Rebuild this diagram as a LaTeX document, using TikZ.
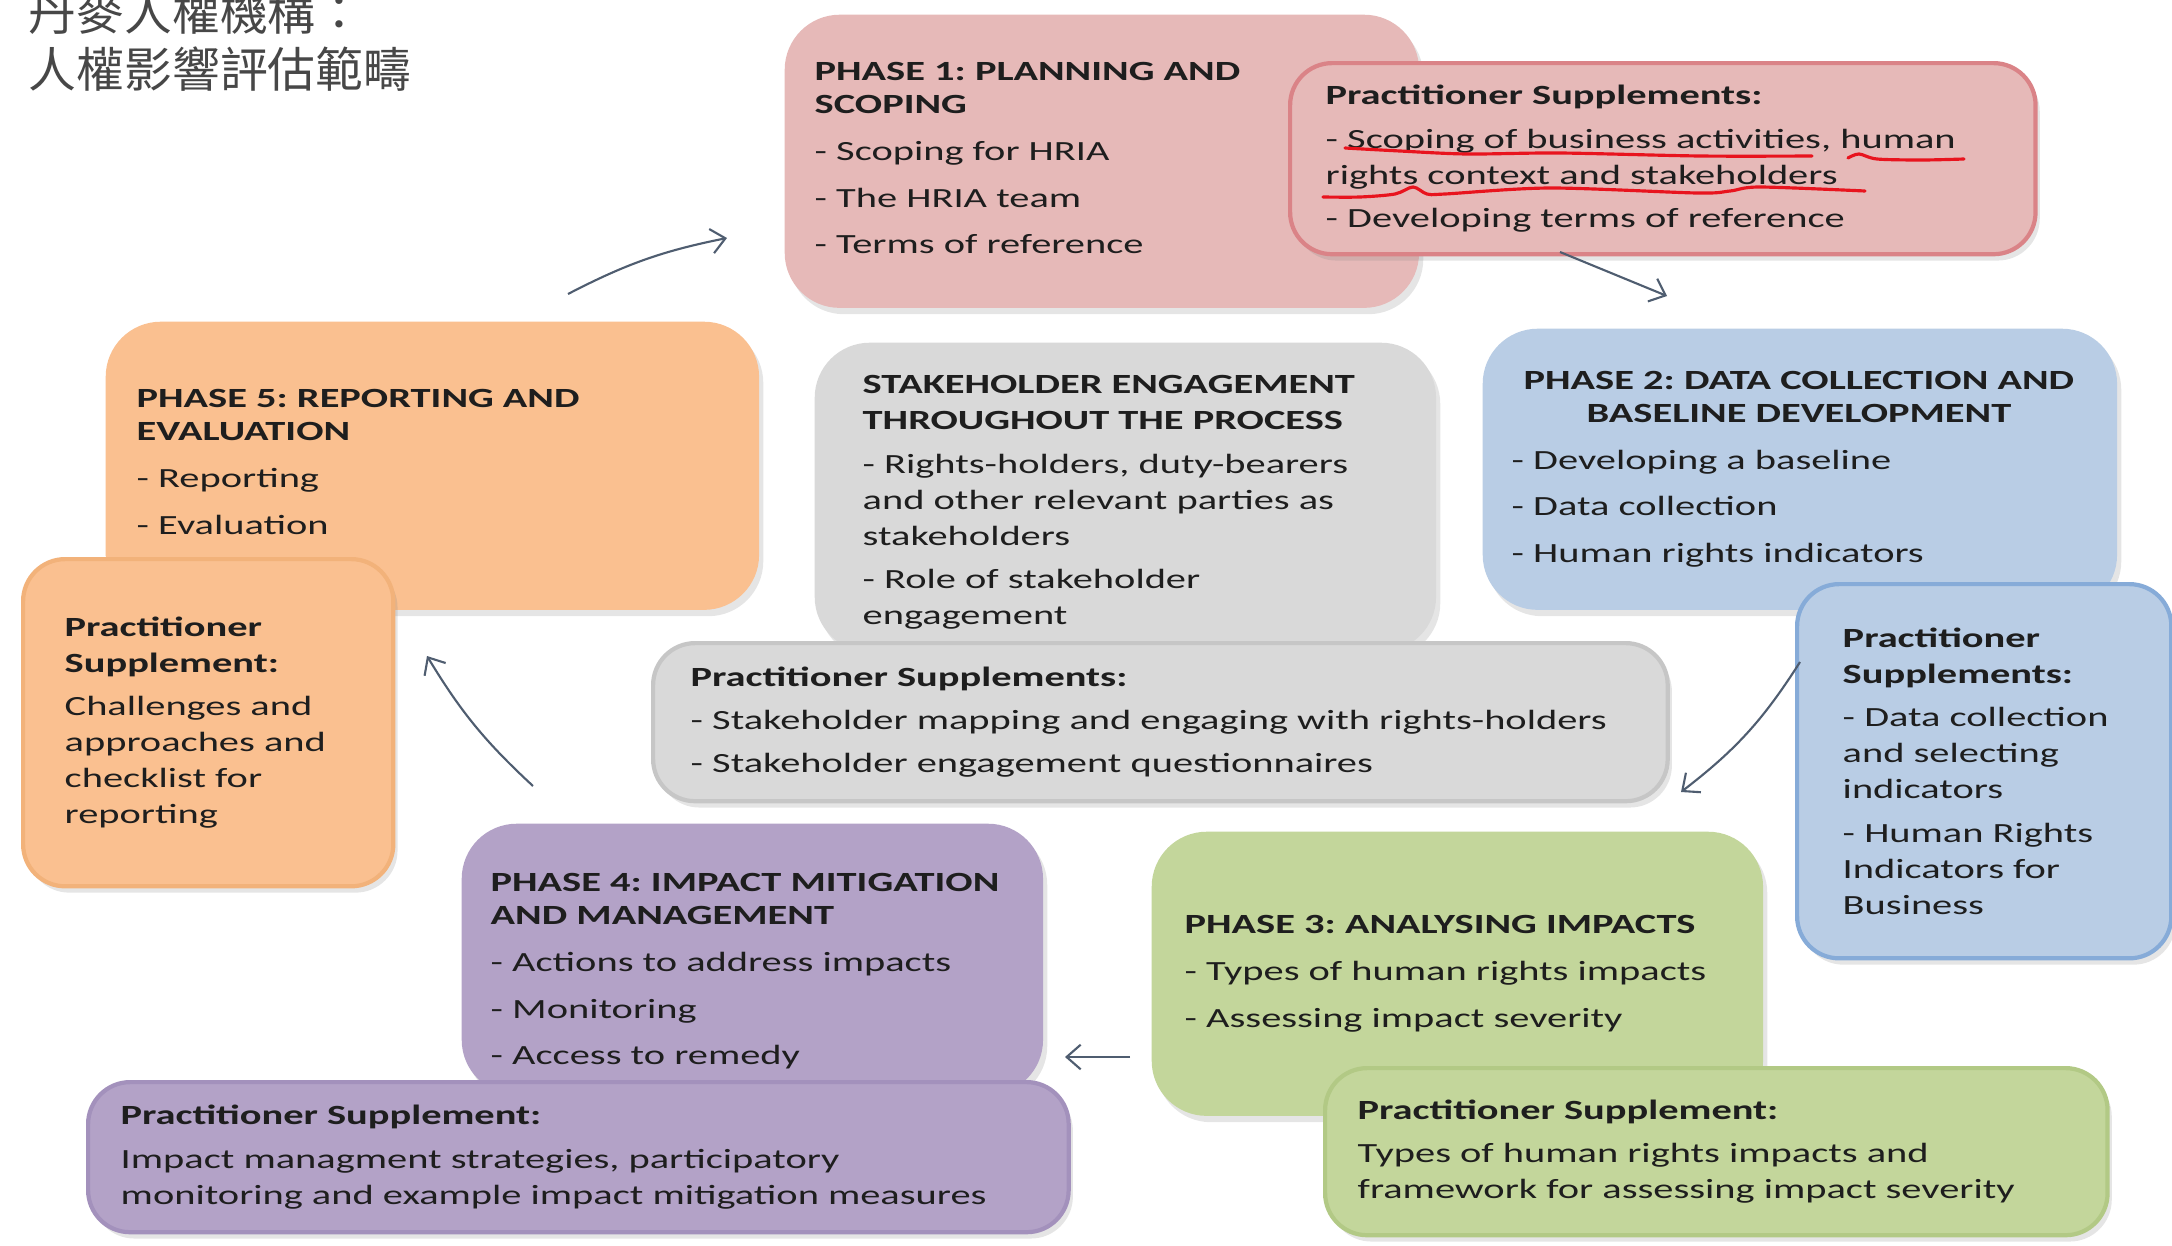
\documentclass[tikz,border=0pt]{standalone}
\usepackage{fontspec}
\setmainfont{Carlito}[FakeStretch=1.455]
\newfontfamily\cjkfont{Noto Sans CJK TC}
\usepackage{calc}
\usetikzlibrary{positioning}
\usetikzlibrary{arrows.meta}
\usetikzlibrary{shadows}
\definecolor{PINK}{HTML}{E6B9B8}
\definecolor{PINK_E}{HTML}{DA8387}
\definecolor{BLUE}{HTML}{B9CDE5}
\definecolor{BLUE_E}{HTML}{86ABD8}
\definecolor{GREY}{HTML}{D9D9D9}
\definecolor{GREY_E}{HTML}{C6C6C6}
\definecolor{ORANGE}{HTML}{FAC090}
\definecolor{ORANGE_E}{HTML}{F2B27A}
\definecolor{PURPLE}{HTML}{B3A2C7}
\definecolor{PURPLE_E}{HTML}{A391BC}
\definecolor{GREEN}{HTML}{C3D69B}
\definecolor{GREEN_E}{HTML}{B2C985}
\definecolor{ARROW}{HTML}{4F5D70}
\definecolor{INK}{HTML}{1E1E1E}
\definecolor{MARKER}{HTML}{E8141E}
\tikzset{
	every node/.style = {font=\fontsize{7.9}{10.24}\selectfont},
	phasebox/.style = {rectangle, rounded corners=0.55cm, inner sep=0pt, anchor=north west,
		drop shadow={opacity=0.2, shadow xshift=1.2pt, shadow yshift=-1.8pt}},
	suppbox/.style = {phasebox, rounded corners=0.42cm, line width=1.2pt},
	boxtext/.style = {inner sep=0pt, align=left, text=INK},
	titletext/.style = {inner sep=0pt, anchor=base west, text=black!72,
		font=\cjkfont\fontsize{13.6}{16}\selectfont},
	cyclearrow/.style = {draw=ARROW, line width=0.6pt, -{Straight Barb[length=4pt,width=7pt]}},
	redmarker/.style = {draw=MARKER, line width=0.9pt, line cap=round}
}
\begin{document}
\frenchspacing
\begin{tikzpicture}[x=0.01cm, y=-0.01cm]
		\useasboundingbox[fill=white] (0,0) rectangle (2172,1245);
		% title
		\node[titletext] (title1) at (28,30) {丹麥人權機構：};
		\node[titletext] (title2) at (28,87) {人權影響評估範疇};
		% phase 1
		\node[phasebox, fill=PINK, minimum width=6.34cm, minimum height=2.93cm] (phase1) at (784,14) {};
		\node[boxtext, right=0.30cm of phase1.west, yshift=0.03cm] (phase1text) {\textbf{PHASE 1: PLANNING AND}\\[-0.85pt]\textbf{SCOPING}\\[3.1pt]- Scoping for HRIA\\[3pt]- The HRIA team\\[3pt]- Terms of reference};
		\node[suppbox, fill=PINK, draw=PINK_E, minimum width=7.45cm, minimum height=1.91cm] (supp1) at (1288,61) {};
		\node[boxtext, right=0.37cm of supp1.west] (supp1text) {\textbf{Practitioner Supplements:}\\[2.1pt]- Scoping of business activities, human\\rights context and stakeholders\\[2.1pt]- Developing terms of reference};
		% red marks
		\draw[redmarker] plot[smooth] coordinates {(1345,148) (1400,151) (1467,154) (1560,153) (1700,156) (1812,156)};
		\draw[redmarker] plot[smooth] coordinates {(1848,158) (1859,154) (1877,159) (1922,160) (1964,159)};
		\draw[redmarker] plot[smooth] coordinates {(1323,197) (1360,197) (1395,194) (1413,187) (1427,194) (1445,194) (1550,188) (1697,193) (1730,191) (1760,187) (1865,191)};
		% phase 2
		\node[phasebox, fill=BLUE, minimum width=6.34cm, minimum height=2.81cm] (phase2) at (1482,328) {};
		\node[boxtext, right=0.29cm of phase2.west] (phase2text) {\hspace*{0.12cm}\textbf{PHASE 2: DATA COLLECTION AND}\\[-0.85pt]\hspace*{0.12cm}\makebox[\widthof{\textbf{PHASE 2: DATA COLLECTION AND}}]{\textbf{BASELINE DEVELOPMENT}}\\[3.1pt]- Developing a baseline\\[3pt]- Data collection\\[3pt]- Human rights indicators};
		\node[suppbox, fill=BLUE, draw=BLUE_E, minimum width=3.74cm, minimum height=3.74cm] (supp2) at (1795,582) {};
		\node[boxtext, right=0.47cm of supp2.west] (supp2text) {\textbf{Practitioner}\\\textbf{Supplements:}\\[2.1pt]- Data collection\\and selecting\\indicators\\[2.1pt]- Human Rights\\Indicators for\\Business};
		% stakeholder engagement
		\node[phasebox, fill=GREY, minimum width=6.21cm, minimum height=3.09cm] (stake) at (814,342) {};
		\node[boxtext, right=0.48cm of stake.west, yshift=-0.05cm] (staketext) {\textbf{STAKEHOLDER ENGAGEMENT}\\\textbf{THROUGHOUT THE PROCESS}\\[2.1pt]- Rights-holders, duty-bearers\\and other relevant parties as\\stakeholders\\[2pt]- Role of stakeholder\\engagement};
		\node[suppbox, fill=GREY, draw=GREY_E, minimum width=10.14cm, minimum height=1.58cm] (suppst) at (651,641) {};
		\node[boxtext, right=0.39cm of suppst.west] (suppsttext) {\textbf{Practitioner Supplements:}\\[2.1pt]- Stakeholder mapping and engaging with rights-holders\\[2.1pt]- Stakeholder engagement questionnaires};
		% phase 5
		\node[phasebox, fill=ORANGE, minimum width=6.53cm, minimum height=2.88cm] (phase5) at (105,321) {};
		\node[boxtext, right=0.31cm of phase5.west, yshift=0.04cm] (phase5text) {\textbf{PHASE 5: REPORTING AND}\\[-0.85pt]\textbf{EVALUATION}\\[3.1pt]- Reporting\\[3pt]- Evaluation};
		\node[suppbox, fill=ORANGE, draw=ORANGE_E, minimum width=3.70cm, minimum height=3.27cm] (supp5) at (21,557) {};
		\node[boxtext, right=0.43cm of supp5.west] (supp5text) {\textbf{Practitioner}\\\textbf{Supplement:}\\[2.1pt]Challenges and\\approaches and\\checklist for\\reporting};
		% phase 4
		\node[phasebox, fill=PURPLE, minimum width=5.81cm, minimum height=2.71cm] (phase4) at (461,823) {};
		\node[boxtext, right=0.29cm of phase4.west, yshift=-0.12cm] (phase4text) {\textbf{PHASE 4: IMPACT MITIGATION}\\[-0.85pt]\textbf{AND MANAGEMENT}\\[3.1pt]- Actions to address impacts\\[3pt]- Monitoring\\[3pt]- Access to remedy};
		\node[suppbox, fill=PURPLE, draw=PURPLE_E, minimum width=9.80cm, minimum height=1.50cm] (supp4) at (86,1080) {};
		\node[boxtext, right=0.34cm of supp4.west] (supp4text) {\textbf{Practitioner Supplement:}\\[2.1pt]Impact managment strategies, participatory\\monitoring and example impact mitigation measures};
		% phase 3
		\node[phasebox, fill=GREEN, minimum width=6.11cm, minimum height=2.84cm] (phase3) at (1151,831) {};
		\node[boxtext, right=0.33cm of phase3.west] (phase3text) {\textbf{PHASE 3: ANALYSING IMPACTS}\\[3.1pt]- Types of human rights impacts\\[3pt]- Assessing impact severity};
		\node[suppbox, fill=GREEN, draw=GREEN_E, minimum width=7.82cm, minimum height=1.67cm] (supp3) at (1323,1066) {};
		\node[boxtext, right=0.34cm of supp3.west] (supp3text) {\textbf{Practitioner Supplement:}\\[2.1pt]Types of human rights impacts and\\framework for assessing impact severity};
		% cycle arrows
		\coordinate (a1s) at (568,294);   \coordinate (a1e) at (727,238);
		\coordinate (a2s) at (1560,252);  \coordinate (a2e) at (1667,296);
		\coordinate (a3s) at (1800,662);  \coordinate (a3e) at (1681,792);
		\coordinate (a4s) at (1130,1057); \coordinate (a4e) at (1065,1057);
		\coordinate (a5s) at (533,786);   \coordinate (a5e) at (427,656);
		\draw[cyclearrow] (a1s) to[bend left=8] (a1e);
		\draw[cyclearrow] (a2s) -- (a2e);
		\draw[cyclearrow] (a3s) to[bend left=10] (a3e);
		\draw[cyclearrow] (a4s) -- (a4e);
		\draw[cyclearrow] (a5s) to[bend left=8] (a5e);
	\end{tikzpicture}
\end{document}
